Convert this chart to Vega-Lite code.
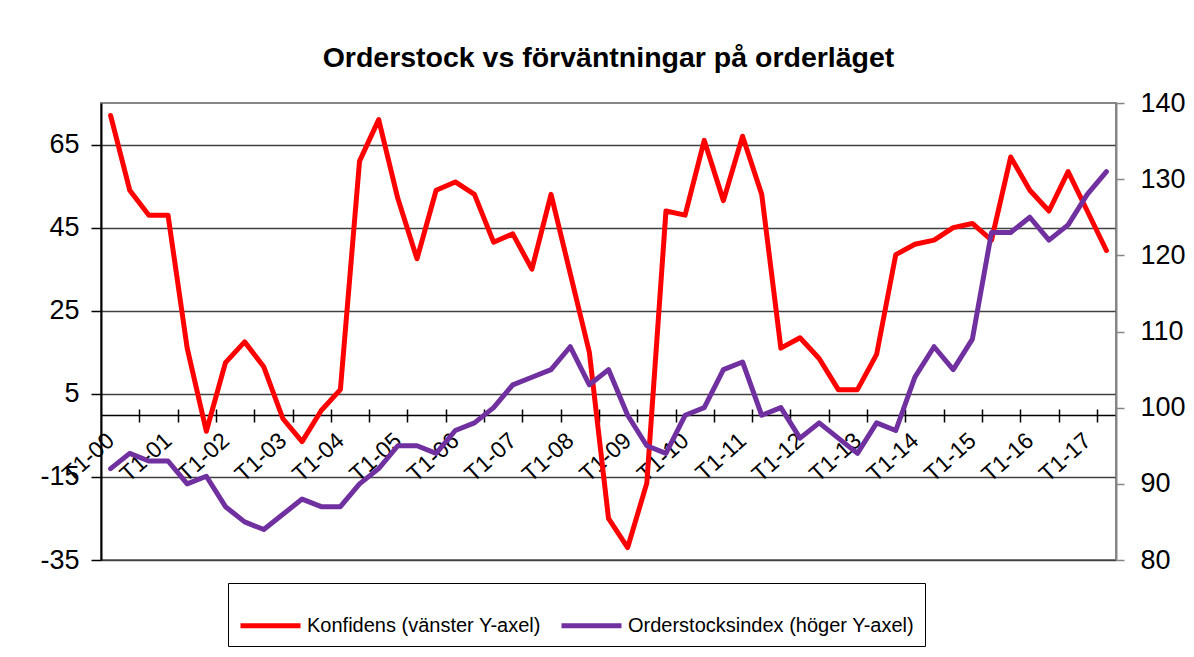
{
  "$schema": "https://vega.github.io/schema/vega-lite/v6.json",
  "width": 1015,
  "height": 457,
  "autosize": {"type": "none"},
  "padding": {"left": 101, "top": 103, "right": 78, "bottom": 97},
  "background": "white",
  "title": {"text": "Orderstock vs förväntningar på orderläget", "fontSize": 28.5, "font": "Liberation Sans", "fontWeight": "bold", "color": "black", "anchor": "middle", "offset": 17},
  "data": {"values": [
    {"i": 0, "period": "T1-00", "konfidens": 72, "orderstock": 92},
    {"i": 1, "period": "T2-00", "konfidens": 54, "orderstock": 94},
    {"i": 2, "period": "T3-00", "konfidens": 48, "orderstock": 93},
    {"i": 3, "period": "T1-01", "konfidens": 48, "orderstock": 93},
    {"i": 4, "period": "T2-01", "konfidens": 16, "orderstock": 90},
    {"i": 5, "period": "T3-01", "konfidens": -4, "orderstock": 91},
    {"i": 6, "period": "T1-02", "konfidens": 12.5, "orderstock": 87},
    {"i": 7, "period": "T2-02", "konfidens": 17.5, "orderstock": 85},
    {"i": 8, "period": "T3-02", "konfidens": 11.5, "orderstock": 84},
    {"i": 9, "period": "T1-03", "konfidens": -1, "orderstock": 86},
    {"i": 10, "period": "T2-03", "konfidens": -6.5, "orderstock": 88},
    {"i": 11, "period": "T3-03", "konfidens": 1, "orderstock": 87},
    {"i": 12, "period": "T1-04", "konfidens": 6, "orderstock": 87},
    {"i": 13, "period": "T2-04", "konfidens": 61, "orderstock": 90},
    {"i": 14, "period": "T3-04", "konfidens": 71, "orderstock": 92},
    {"i": 15, "period": "T1-05", "konfidens": 52, "orderstock": 95},
    {"i": 16, "period": "T2-05", "konfidens": 37.5, "orderstock": 95},
    {"i": 17, "period": "T3-05", "konfidens": 54, "orderstock": 94},
    {"i": 18, "period": "T1-06", "konfidens": 56, "orderstock": 97},
    {"i": 19, "period": "T2-06", "konfidens": 53, "orderstock": 98},
    {"i": 20, "period": "T3-06", "konfidens": 41.5, "orderstock": 100},
    {"i": 21, "period": "T1-07", "konfidens": 43.5, "orderstock": 103},
    {"i": 22, "period": "T2-07", "konfidens": 35, "orderstock": 104},
    {"i": 23, "period": "T3-07", "konfidens": 53, "orderstock": 105},
    {"i": 24, "period": "T1-08", "konfidens": 34, "orderstock": 108},
    {"i": 25, "period": "T2-08", "konfidens": 15, "orderstock": 103},
    {"i": 26, "period": "T3-08", "konfidens": -25, "orderstock": 105},
    {"i": 27, "period": "T1-09", "konfidens": -32, "orderstock": 99},
    {"i": 28, "period": "T2-09", "konfidens": -16.5, "orderstock": 95},
    {"i": 29, "period": "T3-09", "konfidens": 49, "orderstock": 94},
    {"i": 30, "period": "T1-10", "konfidens": 48, "orderstock": 99},
    {"i": 31, "period": "T2-10", "konfidens": 66, "orderstock": 100},
    {"i": 32, "period": "T3-10", "konfidens": 51.5, "orderstock": 105},
    {"i": 33, "period": "T1-11", "konfidens": 67, "orderstock": 106},
    {"i": 34, "period": "T2-11", "konfidens": 53, "orderstock": 99},
    {"i": 35, "period": "T3-11", "konfidens": 16, "orderstock": 100},
    {"i": 36, "period": "T1-12", "konfidens": 18.5, "orderstock": 96},
    {"i": 37, "period": "T2-12", "konfidens": 13.5, "orderstock": 98},
    {"i": 38, "period": "T3-12", "konfidens": 6, "orderstock": 96},
    {"i": 39, "period": "T1-13", "konfidens": 6, "orderstock": 94},
    {"i": 40, "period": "T2-13", "konfidens": 14.5, "orderstock": 98},
    {"i": 41, "period": "T3-13", "konfidens": 38.5, "orderstock": 97},
    {"i": 42, "period": "T1-14", "konfidens": 41, "orderstock": 104},
    {"i": 43, "period": "T2-14", "konfidens": 42, "orderstock": 108},
    {"i": 44, "period": "T3-14", "konfidens": 45, "orderstock": 105},
    {"i": 45, "period": "T1-15", "konfidens": 46, "orderstock": 109},
    {"i": 46, "period": "T2-15", "konfidens": 42, "orderstock": 123},
    {"i": 47, "period": "T3-15", "konfidens": 62, "orderstock": 123},
    {"i": 48, "period": "T1-16", "konfidens": 54, "orderstock": 125},
    {"i": 49, "period": "T2-16", "konfidens": 49, "orderstock": 122},
    {"i": 50, "period": "T3-16", "konfidens": 58.5, "orderstock": 124},
    {"i": 51, "period": "T1-17", "konfidens": 49, "orderstock": 128},
    {"i": 52, "period": "T2-17", "konfidens": 39.5, "orderstock": 131}
  ]},
  "layer": [
    {
      "mark": {"type": "line", "color": "#ff0000", "strokeWidth": 5, "strokeJoin": "round", "strokeCap": "round"},
      "encoding": {
        "x": {"field": "i", "type": "quantitative", "scale": {"domain": [-0.5, 52.5], "nice": false, "zero": false},
          "axis": {"orient": "bottom", "offset": -151, "values": [1.5, 3.5, 5.5, 7.5, 9.5, 11.5, 13.5, 15.5, 17.5, 19.5, 21.5, 23.5, 25.5, 27.5, 29.5, 31.5, 33.5, 35.5, 37.5, 39.5, 41.5, 43.5, 45.5, 47.5, 49.5, 51.5],
            "labels": false, "domain": false, "ticks": true, "tickSize": 13, "tickColor": "black", "tickWidth": 1.5, "grid": false, "title": null}},
        "y": {"field": "konfidens", "type": "quantitative", "scale": {"domain": [-35, 75], "nice": false, "zero": false},
          "axis": {"orient": "left", "values": [-35, -15, 5, 25, 45, 65], "grid": true, "gridColor": "#404040", "gridWidth": 1.5,
            "domainColor": "black", "domainWidth": 2, "tickColor": "black", "tickSize": 10, "tickWidth": 1.5,
            "labelExpr": "toString(datum.value)",
            "labelFontSize": 27, "labelFont": "Liberation Sans", "labelColor": "black", "labelPadding": 12, "title": null}},
        "color": {"datum": "Konfidens (vänster Y-axel)", "type": "nominal",
          "scale": {"domain": ["Konfidens (vänster Y-axel)", "Orderstocksindex (höger Y-axel)"], "range": ["#ff0000", "#7030a0"]},
          "legend": {"orient": "none", "legendX": 127, "legendY": 480, "direction": "horizontal", "title": null,
            "symbolType": "stroke", "symbolStrokeWidth": 5, "symbolSize": 3600, "labelFontSize": 20, "labelFont": "Liberation Sans",
            "labelColor": "black", "labelLimit": 0, "strokeColor": "black", "padding": 10, "columnPadding": 10, "labelOffset": 4}}
      }
    },
    {
      "mark": {"type": "line", "color": "#7030a0", "strokeWidth": 5, "strokeJoin": "round", "strokeCap": "round"},
      "encoding": {
        "x": {"field": "i", "type": "quantitative", "scale": {"domain": [-0.5, 52.5], "nice": false, "zero": false},
          "axis": {"orient": "bottom", "offset": -145, "values": [0, 3, 6, 9, 12, 15, 18, 21, 24, 27, 30, 33, 36, 39, 42, 45, 48, 51],
            "ticks": false, "domain": true, "domainColor": "black", "domainWidth": 1.5, "labelAngle": -42, "labelAlign": "right",
            "labelBaseline": "middle", "labelPadding": 22, "labelFontSize": 23, "labelFont": "Liberation Sans", "labelColor": "black",
            "labelFlush": false, "labelOverlap": false, "labelBound": false,
            "labelExpr": "'T1-' + (datum.value < 30 ? '0' : '') + floor(datum.value / 3)", "grid": false, "title": null}},
        "y": {"field": "orderstock", "type": "quantitative", "scale": {"domain": [80, 140], "nice": false, "zero": false},
          "axis": {"orient": "right", "values": [80, 90, 100, 110, 120, 130, 140], "grid": false,
            "domainColor": "#868686", "domainWidth": 2, "tickColor": "#868686", "tickSize": 8, "tickWidth": 1.5,
            "labelFontSize": 27, "labelFont": "Liberation Sans", "labelColor": "black", "labelPadding": 16, "title": null}},
        "color": {"datum": "Orderstocksindex (höger Y-axel)", "type": "nominal"}
      }
    }
  ],
  "resolve": {"scale": {"y": "independent"}, "axis": {"x": "independent"}},
  "config": {"view": {"stroke": "#868686", "strokeWidth": 2}}
}
